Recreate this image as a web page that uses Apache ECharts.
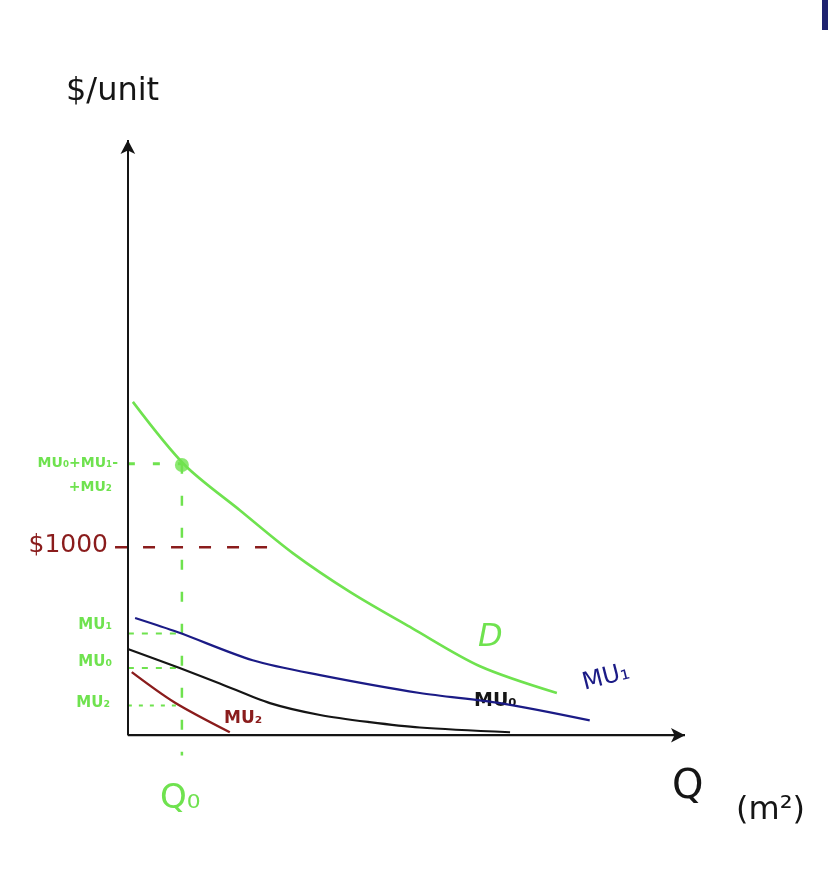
<!DOCTYPE html>
<html>
<head>
<meta charset="utf-8">
<script src="https://cdn.jsdelivr.net/npm/echarts@6/dist/echarts.min.js"></script>
<style>
html,body{margin:0;padding:0;background:#fff;}
#chart{width:828px;height:872px;}
</style>
</head>
<body>
<div id="chart"></div>
<script>
// Axis ranges (data units)
const xMin = -5, xMax = 100, yMin = -5, yMax = 100;

// Demand curve D (sum of marginal utilities)
const dX = [0.9, 10.2, 20.1, 29.6, 40.0, 51.0, 63.2, 77.0];
const dY = [56.0, 45.4, 37.8, 30.6, 24.0, 18.0, 11.6, 7.1];
// MU1 (navy)
const mu1X = [1.3, 9.0, 22.4, 34.5, 52.4, 66.8, 82.9];
const mu1Y = [19.7, 17.3, 12.6, 10.1, 7.1, 5.4, 2.5];
// MU0 (black)
const mu0X = [0, 9.3, 16.5, 25.5, 34.5, 43.4, 52.4, 68.6];
const mu0Y = [14.5, 11.3, 8.7, 5.4, 3.4, 2.2, 1.3, 0.5];
// MU2 (dark red)
const mu2X = [0.7, 8.4, 18.3];
const mu2Y = [10.6, 5.5, 0.5];

// Reference quantities / levels
const q0 = 9.7;
const levelSum = 45.6;
const level1000 = 31.6;
const level1000End = 25.5;
const levelMU1 = 17.1;
const levelMU0 = 11.3;
const levelMU2 = 5.0;
const q0LineBottom = -3.4;

const GREEN = '#6fe24f';
const NAVY = '#1b1b86';
const DARKRED = '#8a1c1c';
const BLACK = '#151515';

const zip = (xs, ys) => xs.map((x, i) => [x, ys[i]]);

const chart = echarts.init(document.getElementById('chart'));

function curve(name, xs, ys, color, width) {
  return {
    name: name, type: 'line', smooth: 0.3, symbol: 'none',
    data: zip(xs, ys),
    lineStyle: { color: color, width: width }, z: 3
  };
}
function dashed(data, color, dash, width) {
  return {
    type: 'line', symbol: 'none', data: data,
    lineStyle: { color: color, width: width || 2, type: dash }, z: 2
  };
}

const option = {
  animation: false,
  backgroundColor: '#ffffff',
  grid: { left: 100, right: 143, top: 140, bottom: 107 },
  xAxis: { type: 'value', min: xMin, max: xMax, show: false },
  yAxis: { type: 'value', min: yMin, max: yMax, show: false },
  series: [
    {
      type: 'line', symbol: 'none', data: [[0, 0], [xMax, 0]],
      lineStyle: { color: BLACK, width: 2 },
      markLine: {
        silent: true, symbol: ['none', 'arrow'], symbolSize: [11, 14],
        label: { show: false },
        lineStyle: { color: BLACK, width: 2, type: 'solid' },
        data: [
          [{ coord: [0, 0] }, { coord: [xMax, 0] }],
          [{ coord: [0, 0] }, { coord: [0, yMax] }]
        ]
      }
    },
    curve('D', dX, dY, GREEN, 2.6),
    curve('MU1', mu1X, mu1Y, NAVY, 2.2),
    curve('MU0', mu0X, mu0Y, BLACK, 2.2),
    curve('MU2', mu2X, mu2Y, DARKRED, 2.4),
    dashed([[0, levelSum], [q0, levelSum]], GREEN, [7, 18], 3),
    dashed([[-2.3, level1000], [level1000End, level1000]], DARKRED, [12, 16], 2.5),
    dashed([[0, levelMU1], [q0, levelMU1]], GREEN, [6, 8], 2),
    dashed([[0, levelMU0], [q0, levelMU0]], GREEN, [6, 8], 2),
    dashed([[0, levelMU2], [q0 - 1, levelMU2]], GREEN, [4, 7], 2),
    dashed([[q0, levelSum], [q0, q0LineBottom]], GREEN, [10, 22], 2.5),
    {
      type: 'scatter', data: [[q0, dY[1]]], symbolSize: 14,
      itemStyle: { color: GREEN }, z: 5
    }
  ],
  graphic: [
    { type: 'rect', shape: { x: 822, y: 0, width: 6, height: 30 }, style: { fill: '#1f2370' } },
    { type: 'text', x: 66, y: 76, style: { text: '$/unit', font: '32px "DejaVu Sans"', fill: BLACK } },
    { type: 'text', x: 118, y: 456, style: { text: 'MU₀+MU₁-', font: 'bold 14px "DejaVu Sans"', fill: GREEN, align: 'right' } },
    { type: 'text', x: 112, y: 480, style: { text: '+MU₂', font: 'bold 14px "DejaVu Sans"', fill: GREEN, align: 'right' } },
    { type: 'text', x: 108, y: 533, style: { text: '$1000', font: '25px "DejaVu Sans"', fill: DARKRED, align: 'right' } },
    { type: 'text', x: 112, y: 618, style: { text: 'MU₁', font: 'bold 15px "DejaVu Sans"', fill: GREEN, align: 'right' } },
    { type: 'text', x: 112, y: 655, style: { text: 'MU₀', font: 'bold 15px "DejaVu Sans"', fill: GREEN, align: 'right' } },
    { type: 'text', x: 110, y: 696, style: { text: 'MU₂', font: 'bold 15px "DejaVu Sans"', fill: GREEN, align: 'right' } },
    { type: 'text', x: 478, y: 622, style: { text: 'D', font: 'italic 32px "DejaVu Sans"', fill: GREEN } },
    { type: 'text', x: 580, y: 672, rotation: 0.25, style: { text: 'MU₁', font: '24px "DejaVu Sans"', fill: NAVY } },
    { type: 'text', x: 474, y: 692, style: { text: 'MU₀', font: 'bold 19px "DejaVu Sans"', fill: BLACK } },
    { type: 'text', x: 224, y: 710, style: { text: 'MU₂', font: 'bold 17px "DejaVu Sans"', fill: DARKRED } },
    { type: 'text', x: 160, y: 782, style: { text: 'Q₀', font: '34px "DejaVu Sans"', fill: GREEN } },
    { type: 'text', x: 672, y: 768, style: { text: 'Q', font: '40px "DejaVu Sans"', fill: BLACK } },
    { type: 'text', x: 736, y: 795, style: { text: '(m²)', font: '32px "DejaVu Sans"', fill: BLACK } }
  ]
};
chart.setOption(option);
</script>
</body>
</html>
